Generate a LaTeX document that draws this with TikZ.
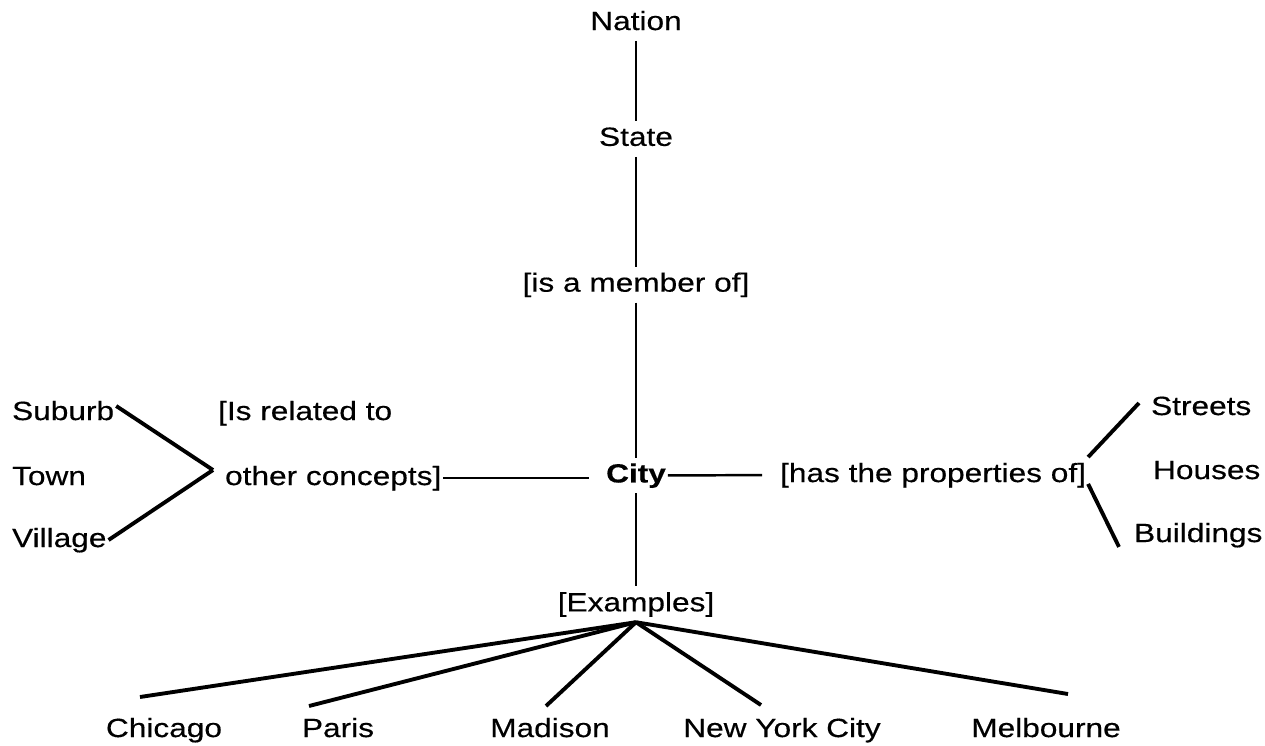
\documentclass[tikz,border=0pt]{standalone}
\usepackage{fontspec}
\setmainfont[FakeStretch=1.2, FakeBold=0.4]{Liberation Sans}
\usetikzlibrary{positioning}

\begin{document}
\begin{tikzpicture}[
    x=0.02cm, y=-0.02cm,
    word/.style={inner xsep=1pt, inner ysep=3pt, font=\fontsize{15}{18}\selectfont, text height=11pt, text depth=3pt},
    hub/.style={word, font=\fontsize{15}{18}\selectfont\bfseries},
    link/.style={line width=1.4pt},
    fan/.style={line width=2.2pt}
]
    \useasboundingbox (0,0) rectangle (1265,745);

    % the spine, top to bottom
    \node[word] (nation) at (636,23) {Nation};
    \node[word] (state) [below=1.6cm of nation] {State};
    \node[word] (member) [below=2.2cm of state] {[is a member of]};
    \node[hub] (city) [below=3.1cm of member] {City};
    \node[word] (examples) [below=1.86cm of city] {[Examples]};

    \node[word, anchor=west] (suburb) at (10,413) {Suburb};
    \node[word, anchor=west] (town) at (10,478) {Town};
    \node[word, anchor=west] (village) at (10,540) {Village};
    \node[word, anchor=west] (rel1) at (216,413) {[Is related to};
    \node[word, anchor=west] (rel2) at (223,478) {other concepts]};

    \node[word, anchor=west] (props) at (778,475) {[has the properties of]};
    \node[word, anchor=west] (streets) at (1149,408) {Streets};
    \node[word, anchor=west] (houses) at (1151,472) {Houses};
    \node[word, anchor=west] (buildings) at (1132,535) {Buildings};

    \node[word] (chicago) at (164,730) {Chicago};
    \node[word] (paris) at (338,730) {Paris};
    \node[word] (madison) at (550,730) {Madison};
    \node[word] (nyc) at (782,730) {New York City};
    \node[word] (melbourne) at (1046,730) {Melbourne};

    \coordinate (chicagoTip) at (140,697);
    \coordinate (parisTip) at (309,706);
    \coordinate (madisonTip) at (546,706);
    \coordinate (nycTip) at (761,705);
    \coordinate (melbourneTip) at (1068,694);
    \coordinate (relTip) at ([shift={(-0.2cm,0.16cm)}]rel2.west);

    \draw[link] (nation) -- (state);
    \draw[link] (state) -- (member);
    \draw[link] (member) -- (city);
    \draw[link] (city) -- (examples);
    \draw[link, shorten >=0.3cm] (rel2.east) -- (rel2.east -| city.west);
    \draw[link, shorten >=0.32cm] (city.east) -- (props.west);

    \draw[fan] ([yshift=4pt]suburb.east) -- (relTip);
    \draw[fan] (village.east) -- (relTip);
    \draw[fan] (props.north east) -- ([xshift=-0.2cm,yshift=0.1cm]streets.west);
    \draw[fan] ([yshift=0.18cm]props.south east) -- ([xshift=-0.26cm,yshift=0.12cm]buildings.south west);

    \foreach \tip in {chicagoTip, parisTip, madisonTip, nycTip, melbourneTip}
        \draw[fan] (examples.south) -- (\tip);
\end{tikzpicture}
\end{document}
